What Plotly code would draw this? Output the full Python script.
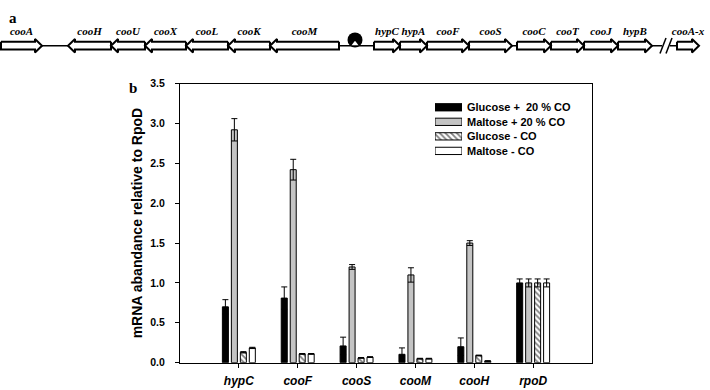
import plotly.graph_objects as go

# ---------------- data: gene map (panel a) ----------------
gene_names = ["cooA", "cooH", "cooU", "cooX", "cooL", "cooK", "cooM",
              "hypC", "hypA", "cooF", "cooS", "cooC", "cooT", "cooJ", "hypB", "cooA-x"]
gene_start = [1, 68, 111, 145, 186, 228, 270, 374, 400, 427, 469, 517, 551, 584, 618, 677]
gene_end = [42, 111, 145, 186, 228, 270, 339, 400, 427, 469, 512, 551, 584, 618, 652, 699]
gene_strand = [1, -1, -1, -1, -1, -1, -1, 1, 1, 1, 1, 1, 1, 1, 1, 1]
backbone_segments = [(0, 662), (670, 677)]
promoter_pos = 355
break_pos = 666

# ---------------- data: qRT-PCR (panel b) ----------------
categories = ["hypC", "cooF", "cooS", "cooM", "cooH", "rpoD"]
series_names = ["Glucose +  20 % CO", "Maltose + 20 % CO", "Glucose - CO", "Maltose - CO"]
glc_co = [0.70, 0.81, 0.21, 0.105, 0.20, 1.00]
glc_co_err = [0.09, 0.14, 0.11, 0.08, 0.11, 0.05]
mal_co = [2.92, 2.42, 1.20, 1.10, 1.50, 1.00]
mal_co_err = [0.14, 0.13, 0.03, 0.09, 0.03, 0.05]
glc_noco = [0.13, 0.11, 0.06, 0.05, 0.09, 1.00]
glc_noco_err = [0.008, 0.005, 0.005, 0.005, 0.005, 0.05]
mal_noco = [0.185, 0.11, 0.07, 0.05, 0.02, 1.00]
mal_noco_err = [0.008, 0.005, 0.005, 0.005, 0.005, 0.05]
y_ticks = [0.0, 0.5, 1.0, 1.5, 2.0, 2.5, 3.0, 3.5]

W, H = 710, 390
SANS = "Liberation Sans, Arial, sans-serif"
SERIF = "Liberation Serif, Times New Roman, serif"

series_values = [glc_co, mal_co, glc_noco, mal_noco]
series_errors = [glc_co_err, mal_co_err, glc_noco_err, mal_noco_err]
series_markers = [
    dict(color="black", line=dict(color="black", width=1)),
    dict(color="#c4c4c4", line=dict(color="black", width=1)),
    dict(color="white", line=dict(color="black", width=1),
         pattern=dict(shape="\\", fgcolor="black", bgcolor="white", size=4, solidity=0.45)),
    dict(color="white", line=dict(color="black", width=1)),
]

fig = go.Figure()

# ---------- panel a: gene arrows on a pixel-like axis ----------
YC, BH, HH, HL = 41, 4, 7, 7
for (a, b) in backbone_segments:
    fig.add_trace(go.Scatter(x=[a, b], y=[YC, YC], mode="lines",
                             line=dict(color="black", width=1.5),
                             xaxis="x2", yaxis="y2", showlegend=False, hoverinfo="skip"))
for d in (-3, 3):
    fig.add_trace(go.Scatter(x=[break_pos + d - 3, break_pos + d + 3], y=[YC + 8, YC - 8],
                             mode="lines", line=dict(color="black", width=1.5),
                             xaxis="x2", yaxis="y2", showlegend=False, hoverinfo="skip"))

px_, py_ = [], []
for s, e, st in zip(gene_start, gene_end, gene_strand):
    if st > 0:
        pts = [(s, YC - BH), (e - HL, YC - BH), (e - HL, YC - HH), (e, YC),
               (e - HL, YC + HH), (e - HL, YC + BH), (s, YC + BH), (s, YC - BH)]
    else:
        pts = [(e, YC - BH), (s + HL, YC - BH), (s + HL, YC - HH), (s, YC),
               (s + HL, YC + HH), (s + HL, YC + BH), (e, YC + BH), (e, YC - BH)]
    for x, y in pts:
        px_.append(x)
        py_.append(y)
    px_.append(None)
    py_.append(None)
fig.add_trace(go.Scatter(x=px_, y=py_, mode="lines", fill="toself", fillcolor="white",
                         line=dict(color="black", width=2),
                         xaxis="x2", yaxis="y2", showlegend=False, hoverinfo="skip"))
fig.add_trace(go.Scatter(x=[promoter_pos], y=[YC - 6], mode="markers",
                         marker=dict(symbol="circle", size=15, color="black"),
                         xaxis="x2", yaxis="y2", showlegend=False, hoverinfo="skip"))
fig.add_trace(go.Scatter(x=[promoter_pos], y=[YC - 2], mode="markers",
                         marker=dict(symbol="triangle-up", size=6, color="white"),
                         xaxis="x2", yaxis="y2", showlegend=False, hoverinfo="skip"))
fig.add_trace(go.Scatter(x=[(s + e) / 2 for s, e in zip(gene_start, gene_end)],
                         y=[27] * len(gene_names), mode="text", text=gene_names,
                         textfont=dict(family=SERIF, size=11, color="black",
                                       style="italic", weight="bold"),
                         xaxis="x2", yaxis="y2", showlegend=False, hoverinfo="skip"))

# ---------- panel b: bars ----------
for name, vals, errs, mk in zip(series_names, series_values, series_errors, series_markers):
    fig.add_trace(go.Bar(name=name, x=categories, y=vals, marker=mk, showlegend=False,
                         error_y=dict(type="data", array=errs, visible=True, color="black",
                                      thickness=1, width=3)))

# ---------- legend keys (drawn as a small bar panel) ----------
for name, mk in zip(series_names, series_markers):
    fig.add_trace(go.Bar(x=[1], y=[name], orientation="h", marker=mk, showlegend=False,
                         xaxis="x3", yaxis="y3", hoverinfo="skip"))

x0, x1 = 180, 592
y0, y1 = 80, 368
fig.update_layout(
    width=W, height=H,
    margin=dict(l=0, r=0, t=0, b=0),
    paper_bgcolor="white", plot_bgcolor="white",
    barmode="group", bargap=0.39, bargroupgap=0.33,
    font=dict(family=SANS, color="black"),
    showlegend=False,
    xaxis=dict(domain=[x0 / W, x1 / W], range=[-1, 6], type="category",
               showline=True, linecolor="black", linewidth=1, mirror=True,
               ticks="outside", ticklen=4, tickcolor="black", showgrid=False,
               ticklabelstandoff=3,
               tickfont=dict(family=SANS, size=12, style="italic", weight="bold")),
    yaxis=dict(domain=[1 - y1 / H, 1 - y0 / H], range=[0, 3.5],
               tickvals=y_ticks, tickformat=".1f",
               showline=True, linecolor="black", linewidth=1, mirror=True,
               ticks="outside", ticklen=4, tickcolor="black", showgrid=False, zeroline=False,
               ticklabelstandoff=8,
               tickfont=dict(family=SANS, size=10.5, weight="bold"),
               title=dict(text="mRNA abandance relative to RpoD", standoff=4,
                          font=dict(family=SANS, size=14, weight="bold"))),
    xaxis2=dict(domain=[0, 1], range=[0, W], visible=False, anchor="y2"),
    yaxis2=dict(domain=[1 - 60 / H, 1 - 15 / H], range=[60, 15], visible=False, anchor="x2"),
    xaxis3=dict(domain=[435 / W, 462 / W], range=[0, 1], visible=False, anchor="y3",
                fixedrange=True),
    yaxis3=dict(domain=[1 - 157 / H, 1 - 97 / H], anchor="x3", side="right",
                type="category", autorange="reversed", showline=False, showgrid=False,
                zeroline=False, ticks="", ticklabelstandoff=4,
                tickfont=dict(family=SANS, size=11, weight="bold")),
    annotations=[
        dict(text="a", x=13 / W, y=1 - 12 / H, xref="paper", yref="paper", showarrow=False,
             xanchor="center", yanchor="middle",
             font=dict(family=SERIF, size=15, weight="bold")),
        dict(text="b", x=133 / W, y=1 - 85 / H, xref="paper", yref="paper", showarrow=False,
             xanchor="center", yanchor="middle",
             font=dict(family=SERIF, size=15, weight="bold")),
    ],
)
fig.update_traces(selector=dict(xaxis="x3"), width=0.5)

fig.write_html("out.html", config={"displayModeBar": False},
               post_script="document.body.style.margin='0';")
